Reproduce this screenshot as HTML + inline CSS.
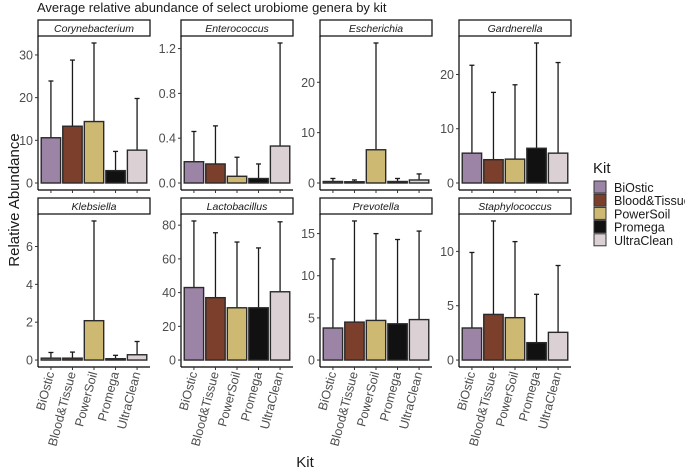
<!DOCTYPE html>
<html><head><meta charset="utf-8"><style>
body{margin:0;background:#fff;}
svg{display:block;font-family:"Liberation Sans",sans-serif;}
</style></head><body>
<svg id="c" width="685" height="471" xmlns="http://www.w3.org/2000/svg">
<text x="37" y="12" font-size="13" fill="#1a1a1a">Average relative abundance of select urobiome genera by kit</text>
<text transform="translate(19,200) rotate(-90)" text-anchor="middle" font-size="15" fill="#1a1a1a">Relative Abundance</text>
<text x="305" y="467" text-anchor="middle" font-size="15" fill="#1a1a1a">Kit</text>
<g id="legend">
<text x="593" y="173" font-size="15" fill="#1a1a1a">Kit</text>
</g>
</svg>
<script>
const kits = ["BiOstic","Blood&Tissue","PowerSoil","Promega","UltraClean"];
const colors = ["#9b84a6","#7b3f2b","#cdb971","#111111","#dbd0d4"];
const genera = ["Corynebacterium","Enterococcus","Escherichia","Gardnerella","Klebsiella","Lactobacillus","Prevotella","Staphylococcus"];
const coryneMeans = [10.6,13.3,14.4,2.9,7.7];
const coryneTops = [23.9,28.8,32.8,7.4,19.8];
const enteroMeans = [0.19,0.17,0.06,0.04,0.33];
const enteroTops = [0.46,0.51,0.23,0.17,1.25];
const eschMeans = [0.3,0.25,6.6,0.3,0.6];
const eschTops = [0.9,0.6,27.8,0.9,1.8];
const gardMeans = [5.5,4.3,4.4,6.4,5.5];
const gardTops = [21.7,16.7,18.1,25.8,22.2];
const klebMeans = [0.1,0.1,2.08,0.07,0.28];
const klebTops = [0.4,0.42,7.35,0.25,0.98];
const lactoMeans = [43,37,31,31,40.5];
const lactoTops = [82.5,75.5,70,66.5,82];
const prevMeans = [3.8,4.5,4.7,4.3,4.8];
const prevTops = [12,16.5,15,14.3,15.3];
const staphMeans = [2.95,4.2,3.9,1.6,2.55];
const staphTops = [9.9,12.8,10.9,6.05,8.7];
const allMeans = [coryneMeans,enteroMeans,eschMeans,gardMeans,klebMeans,lactoMeans,prevMeans,staphMeans];
const allTops = [coryneTops,enteroTops,eschTops,gardTops,klebTops,lactoTops,prevTops,staphTops];
const coryneTicks = [0,10,20,30];
const enteroTicks = [0,0.4,0.8,1.2];
const eschTicks = [0,10,20];
const gardTicks = [0,10,20];
const klebTicks = [0,2,4,6];
const lactoTicks = [0,20,40,60,80];
const prevTicks = [0,5,10,15];
const staphTicks = [0,5,10];
const allTicks = [coryneTicks,enteroTicks,eschTicks,gardTicks,klebTicks,lactoTicks,prevTicks,staphTicks];
const tickDigits = [0,1,0,0,0,0,0,0];

const NS="http://www.w3.org/2000/svg";
const svg=document.getElementById('c');
function mk(tag,attrs,parent){const e=document.createElementNS(NS,tag);for(const k in attrs)e.setAttribute(k,attrs[k]);(parent||svg).appendChild(e);return e;}
const colX=[38,181,320,459], W=112;
const rowTop=[36,214], rowBot=[190,367], stripH=16;

genera.forEach((g,gi)=>{
  const c=gi%4, r=Math.floor(gi/4);
  const x0=colX[c], x1=x0+W, top=rowTop[r], bot=rowBot[r];
  const grp=mk('g',{});
  
  
  const mx=Math.max(...allTops[gi]);
  const lo=-0.05*mx, hi=1.05*mx;
  const y=v=>bot-(v-lo)/(hi-lo)*(bot-top);
  const unit=W/5.2;
  const xc=i=>x0+(i+1-0.4)*unit;
  const st=mk('rect',{x:x0,y:top-stripH,width:W,height:stripH,fill:'#fff',stroke:'#1a1a1a','stroke-width':1.3},grp);
  
  
  const stt=mk('text',{x:x0+W/2,y:top-4,'text-anchor':'middle','font-size':10.5,'font-style':'italic',fill:'#1a1a1a'},grp);
  stt.textContent=g;
  
  
  allMeans[gi].forEach((m,i)=>{
    const bw=unit*0.9, cx=xc(i);
    const t=allTops[gi][i];
    const el=mk('line',{x1:cx,x2:cx,y1:y(m),y2:y(t),stroke:'#1a1a1a','stroke-width':1.3},grp);
    
    
    const ec=mk('line',{x1:cx-2.5,x2:cx+2.5,y1:y(t),y2:y(t),stroke:'#1a1a1a','stroke-width':1.3},grp);
    
    
    const b=mk('rect',{x:cx-bw/2,y:y(m),width:bw,height:Math.max(0.5,y(0)-y(m)),fill:colors[i],stroke:'#2a2a2a','stroke-width':1.4},grp);
    
    
  });
  const ay=mk('line',{x1:x0,x2:x0,y1:top,y2:bot,stroke:'#000','stroke-width':1.2},grp);
  
  
  const ax=mk('line',{x1:x0,x2:x1,y1:bot,y2:bot,stroke:'#000','stroke-width':1.2},grp);
  
  
  allTicks[gi].forEach(v=>{
    mk('line',{x1:x0-3,x2:x0,y1:y(v),y2:y(v),stroke:'#333','stroke-width':1},grp);
    const tl=mk('text',{x:x0-5,y:y(v)+4.5,'text-anchor':'end','font-size':12.5,fill:'#4d4d4d'},grp);
    tl.textContent=v.toFixed(tickDigits[gi]);
    
    
  });
  kits.forEach((k,i)=>{
    const cx=xc(i);
    mk('line',{x1:cx,x2:cx,y1:bot,y2:bot+3,stroke:'#333','stroke-width':1},grp);
    if(r===1){
      const tl=mk('text',{transform:`translate(${cx+3.5},${bot+6}) rotate(-75)`,'text-anchor':'end','font-size':12.5,fill:'#4d4d4d'},grp);
      tl.textContent=k;
      
      
    }
  });
});
const lg=document.getElementById('legend');
kits.forEach((k,i)=>{
  const yy=181+i*13.2;
  const s=mk('rect',{x:594,y:yy,width:12,height:12,fill:colors[i],stroke:'#333','stroke-width':1},lg);
  
  
  const t=mk('text',{x:614,y:yy+11,'font-size':12.5,fill:'#1a1a1a'},lg);
  t.textContent=k;
  
  
});
</script>
</body></html>
